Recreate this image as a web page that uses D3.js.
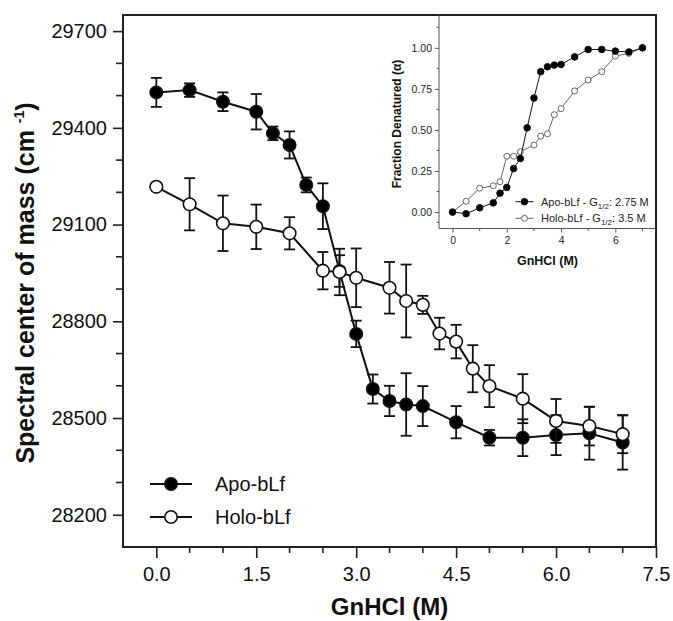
<!DOCTYPE html>
<html>
<head>
<meta charset="utf-8">
<script src="https://cdnjs.cloudflare.com/ajax/libs/d3/7.8.5/d3.min.js"></script>
<style>
  html, body { margin: 0; padding: 0; background: #fff; }
  svg { display: block; font-family: "Liberation Sans", Arial, sans-serif; }
</style>
</head>
<body>
<svg id="chart" width="673" height="621"></svg>
<script>
// ---------- Main chart data ----------
const apoX   = [0, 0.5, 1, 1.5, 1.75, 2, 2.25, 2.5, 2.75, 3, 3.25, 3.5, 3.75, 4, 4.5, 5, 5.5, 6, 6.5, 7];
const apoY   = [29510, 29517, 29481, 29450, 29383, 29347, 29223, 29157, 28956, 28761, 28590, 28553, 28542, 28537, 28487, 28439, 28439, 28447, 28453, 28424];
const apoErr = [45, 21, 29, 55, 21, 42, 23, 71, 49, 41, 45, 47, 97, 62, 50, 24, 57, 62, 82, 84];

const holoX   = [0, 0.5, 1, 1.5, 2, 2.5, 2.75, 3, 3.5, 3.75, 4, 4.25, 4.5, 4.75, 5, 5.5, 6, 6.5, 7];
const holoY   = [29217, 29163, 29104, 29093, 29073, 28957, 28953, 28935, 28904, 28863, 28851, 28762, 28737, 28653, 28599, 28560, 28491, 28475, 28450];
const holoErr = [0, 81, 86, 69, 50, 58, 72, 91, 80, 113, 28, 49, 52, 73, 65, 76, 68, 60, 59];

const xTicks = [0, 1.5, 3, 4.5, 6, 7.5];
const xTickLabels = ["0.0", "1.5", "3.0", "4.5", "6.0", "7.5"];
const yTicks = [28200, 28500, 28800, 29100, 29400, 29700];
const yTickLabels = ["28200", "28500", "28800", "29100", "29400", "29700"];
const seriesNames = ["Apo-bLf", "Holo-bLf"];

// ---------- Inset data ----------
const insetApoX = [0, 0.5, 1, 1.5, 1.75, 2, 2.25, 2.5, 2.75, 3, 3.25, 3.5, 3.75, 4, 4.5, 5, 5.5, 6, 6.5, 7];
const insetApoY = [0, -0.01, 0.026, 0.056, 0.115, 0.15, 0.265, 0.326, 0.513, 0.694, 0.855, 0.885, 0.895, 0.899, 0.945, 0.99, 0.99, 0.98, 0.975, 1.0];
const insetHoloX = [0, 0.5, 1, 1.5, 1.75, 2, 2.25, 2.5, 3, 3.25, 3.5, 3.75, 4, 4.5, 5, 5.5, 6, 6.5, 7];
const insetHoloY = [0, 0.066, 0.145, 0.16, 0.185, 0.34, 0.34, 0.368, 0.408, 0.462, 0.477, 0.593, 0.63, 0.738, 0.804, 0.855, 0.95, 0.966, 1.0];
const insetXTicks = [0, 2, 4, 6];
const insetYTicks = [0, 0.25, 0.5, 0.75, 1.0];
const insetYTickLabels = ["0.00", "0.25", "0.50", "0.75", "1.00"];

const svg = d3.select("#chart");

// ---------- Main scales ----------
const x = d3.scaleLinear().domain([-0.5, 7.5]).range([123, 656]);
const y = d3.scaleLinear().domain([28100, 29750]).range([547, 15]);

// minor ticks
const xMinor = d3.range(0, 7.51, 0.5).filter(v => Math.abs(v / 1.5 - Math.round(v / 1.5)) > 1e-6);
const yMinor = d3.range(28200, 29751, 100).filter(v => v % 300 !== 0);

const tickFont = "20px";

// x axis
const gx = svg.append("g").attr("transform", "translate(0,547)");
gx.call(d3.axisBottom(x).tickValues(xTicks).tickFormat((d, i) => xTickLabels[i]).tickSize(11).tickPadding(9));
gx.select(".domain").remove();
gx.selectAll("line").attr("stroke", "#222").attr("stroke-width", 1.6);
gx.selectAll("text").attr("font-size", tickFont).attr("fill", "#111").attr("font-family", "Liberation Sans, Arial, sans-serif");
gx.selectAll(".minor").data(xMinor).enter().append("line")
  .attr("x1", d => x(d)).attr("x2", d => x(d)).attr("y1", 0).attr("y2", 6)
  .attr("stroke", "#222").attr("stroke-width", 1.6);

// y axis
const gy = svg.append("g").attr("transform", "translate(123,0)");
gy.call(d3.axisLeft(y).tickValues(yTicks).tickFormat((d, i) => yTickLabels[i]).tickSize(10).tickPadding(6));
gy.select(".domain").remove();
gy.selectAll("line").attr("stroke", "#222").attr("stroke-width", 1.6);
gy.selectAll("text").attr("font-size", tickFont).attr("fill", "#111").attr("font-family", "Liberation Sans, Arial, sans-serif");
gy.selectAll(".minor").data(yMinor).enter().append("line")
  .attr("x1", 0).attr("x2", -7).attr("y1", d => y(d)).attr("y2", d => y(d))
  .attr("stroke", "#222").attr("stroke-width", 1.6);

// frame
svg.append("rect").attr("x", 123).attr("y", 15).attr("width", 533).attr("height", 532)
  .attr("fill", "none").attr("stroke", "#222").attr("stroke-width", 2);

// axis titles
svg.append("text").attr("x", 389.5).attr("y", 615).attr("text-anchor", "middle")
  .attr("font-size", "24px").attr("font-weight", "bold").attr("fill", "#111").text("GnHCl (M)");

const yt = svg.append("text").attr("transform", "translate(34,283) rotate(-90)")
  .attr("text-anchor", "middle").attr("font-size", "25px").attr("font-weight", "bold").attr("fill", "#111");
yt.append("tspan").text("Spectral center of mass (cm ");
yt.append("tspan").attr("font-size", "14px").attr("dy", "-10").text("-1");
yt.append("tspan").attr("dy", "10").text(")");

// ---------- Series drawing ----------
const line = d3.line().x(d => x(d.x)).y(d => y(d.y));
function drawSeries(xs, ys, errs, filled) {
  const data = xs.map((v, i) => ({ x: v, y: ys[i], e: errs[i] }));
  const g = svg.append("g");
  const eb = g.selectAll(".eb").data(data.filter(d => d.e > 0)).enter().append("g")
    .attr("stroke", "#111").attr("stroke-width", 1.8);
  eb.append("line").attr("x1", d => x(d.x)).attr("x2", d => x(d.x))
    .attr("y1", d => y(d.y - d.e)).attr("y2", d => y(d.y + d.e));
  eb.append("line").attr("x1", d => x(d.x) - 5.5).attr("x2", d => x(d.x) + 5.5)
    .attr("y1", d => y(d.y + d.e)).attr("y2", d => y(d.y + d.e));
  eb.append("line").attr("x1", d => x(d.x) - 5.5).attr("x2", d => x(d.x) + 5.5)
    .attr("y1", d => y(d.y - d.e)).attr("y2", d => y(d.y - d.e));
  g.append("path").datum(data).attr("d", line).attr("fill", "none")
    .attr("stroke", "#111").attr("stroke-width", 2);
  g.selectAll("circle").data(data).enter().append("circle")
    .attr("cx", d => x(d.x)).attr("cy", d => y(d.y)).attr("r", filled ? 6.2 : 6.3)
    .attr("fill", filled ? "#000" : "#fff").attr("stroke", "#111").attr("stroke-width", 1.6);
}
drawSeries(apoX, apoY, apoErr, true);
drawSeries(holoX, holoY, holoErr, false);

// main legend
const legY = [484, 517];
seriesNames.forEach((name, i) => {
  const g = svg.append("g");
  g.append("line").attr("x1", 150).attr("x2", 192).attr("y1", legY[i]).attr("y2", legY[i])
    .attr("stroke", "#111").attr("stroke-width", 2);
  g.append("circle").attr("cx", 171).attr("cy", legY[i]).attr("r", 6.2)
    .attr("fill", i === 0 ? "#000" : "#fff").attr("stroke", "#111").attr("stroke-width", 1.6);
  g.append("text").attr("x", 215).attr("y", legY[i]).attr("dy", "0.35em")
    .attr("font-size", "20px").attr("fill", "#111").text(name);
});

// ---------- Inset ----------
const ix = d3.scaleLinear().domain([-0.5, 7.5]).range([439, 656]);
const iy = d3.scaleLinear().domain([-0.1, 1.2]).range([228.5, 15]);
const insetGrey = "#555";

const igx = svg.append("g").attr("transform", "translate(0,228.5)");
igx.call(d3.axisBottom(ix).tickValues(insetXTicks).tickFormat(d3.format("d")).tickSize(4).tickPadding(4));
igx.select(".domain").attr("d", "M439,0H656").attr("stroke", insetGrey);
igx.selectAll("line").attr("stroke", insetGrey);
igx.selectAll("text").attr("font-size", "10.5px").attr("fill", "#222").attr("font-family", "Liberation Sans, Arial, sans-serif");
igx.selectAll(".minor").data([1, 3, 5, 7]).enter().append("line")
  .attr("x1", d => ix(d)).attr("x2", d => ix(d)).attr("y1", 0).attr("y2", 2.5).attr("stroke", insetGrey);

const igy = svg.append("g").attr("transform", "translate(439,0)");
igy.call(d3.axisLeft(iy).tickValues(insetYTicks).tickFormat((d, i) => insetYTickLabels[i]).tickSize(4).tickPadding(3));
igy.select(".domain").attr("d", "M0,15V228.5").attr("stroke", insetGrey);
igy.selectAll("line").attr("stroke", insetGrey);
igy.selectAll("text").attr("font-size", "10.5px").attr("fill", "#222").attr("font-family", "Liberation Sans, Arial, sans-serif");
igy.selectAll(".minor").data([-0.0625, 0.125, 0.375, 0.625, 0.875, 1.125]).enter().append("line")
  .attr("x1", 0).attr("x2", -2.5).attr("y1", d => iy(d)).attr("y2", d => iy(d)).attr("stroke", insetGrey);

svg.append("text").attr("transform", "translate(401,124) rotate(-90)").attr("text-anchor", "middle")
  .attr("font-size", "12px").attr("font-weight", "bold").attr("fill", "#111").text("Fraction Denatured (\u03b1)");
svg.append("text").attr("x", 547.5).attr("y", 265).attr("text-anchor", "middle")
  .attr("font-size", "12.5px").attr("font-weight", "bold").attr("fill", "#111").text("GnHCl (M)");

const iline = d3.line().x(d => ix(d.x)).y(d => iy(d.y));
function drawInset(xs, ys, filled) {
  const data = xs.map((v, i) => ({ x: v, y: ys[i] }));
  const col = filled ? "#111" : "#666";
  svg.append("path").datum(data).attr("d", iline).attr("fill", "none").attr("stroke", col).attr("stroke-width", 1);
  svg.append("g").selectAll("circle").data(data).enter().append("circle")
    .attr("cx", d => ix(d.x)).attr("cy", d => iy(d.y)).attr("r", filled ? 3.3 : 3)
    .attr("fill", filled ? "#000" : "#fff").attr("stroke", col).attr("stroke-width", 1);
}
drawInset(insetHoloX, insetHoloY, false);
drawInset(insetApoX, insetApoY, true);

// inset legend
const iLegY = [201.7, 218.3];
const iLegNames = ["Apo-bLf - G", "Holo-bLf - G"];
const iLegVals = [": 2.75 M", ": 3.5 M"];
iLegNames.forEach((name, i) => {
  const col = i === 0 ? "#111" : "#666";
  svg.append("line").attr("x1", 515.5).attr("x2", 533.5).attr("y1", iLegY[i]).attr("y2", iLegY[i])
    .attr("stroke", col).attr("stroke-width", 1);
  svg.append("circle").attr("cx", 524.5).attr("cy", iLegY[i]).attr("r", i === 0 ? 3.3 : 3)
    .attr("fill", i === 0 ? "#000" : "#fff").attr("stroke", col).attr("stroke-width", 1);
  const t = svg.append("text").attr("x", 541).attr("y", iLegY[i] + 4).attr("font-size", "11px").attr("fill", "#222");
  t.append("tspan").text(name);
  t.append("tspan").attr("font-size", "8px").attr("dy", "3").text("1/2");
  t.append("tspan").attr("dy", "-3").text(iLegVals[i]);
});
</script>
</body>
</html>
